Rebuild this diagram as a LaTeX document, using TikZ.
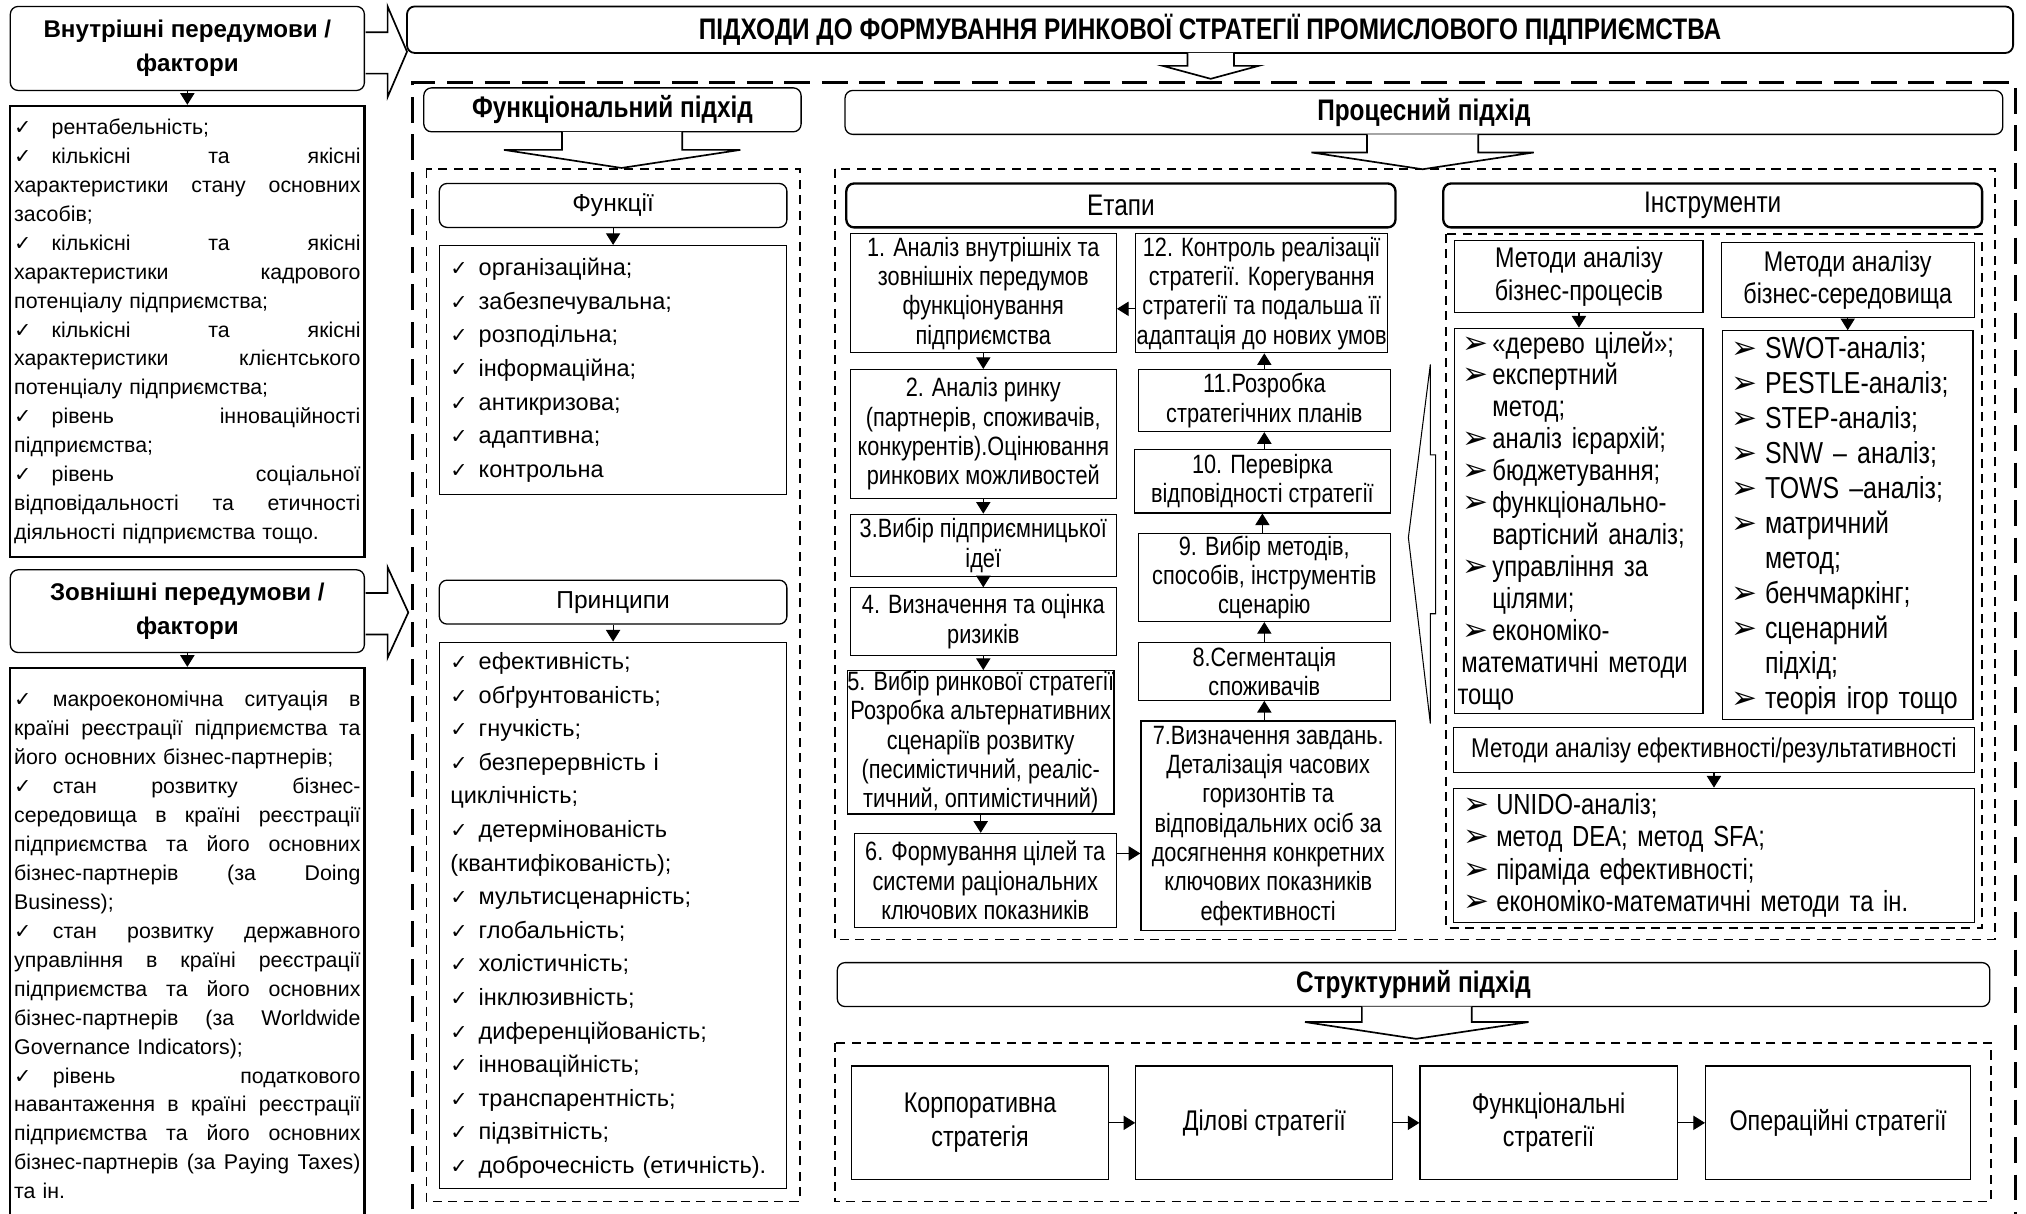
\documentclass[tikz,border=0pt]{standalone}
\usepackage{fontspec}
\setmainfont{Liberation Sans}
\newfontfamily\narrowfont[FakeStretch=0.82]{Liberation Sans}
\newfontfamily\symfont{DejaVu Sans}
\usetikzlibrary{arrows.meta}

% list bullets
\newcommand\tick[1][22pt]{\makebox[#1][l]{\symfont\fontsize{16}{16}\selectfont ✓}}
\newcommand\ptr[1][23pt]{\makebox[#1][l]{\symfont\fontsize{24}{24}\selectfont ➢}}
% a line spread over the whole width of the factor boxes
\newcommand\jline[1]{\makebox[268pt][s]{\spaceskip=\fontdimen2\font plus 1fill\relax#1}}

\begin{document}
\begin{tikzpicture}
  [x=1pt,y=-1pt,line join=miter,
   % Styles
   every node/.style={inner sep=0pt},
   spans/.style args={#1,#2,#3,#4}{minimum width=#3-#1,minimum height=#4-#2,
     at={({(#1+#3)/2},{(#2+#4)/2})}},
   headbox/.style={draw,rounded corners=6pt,line width=1pt,align=center},
   heavy headbox/.style={headbox,line width=1.8pt},
   cell/.style={draw,line width=0.9pt,align=center,
     font=\narrowfont\fontsize{20.5}{22.7}\selectfont},
   factors/.style={draw,line width=1.8pt,text width=268pt,align=left,
     font=\fontsize{16.5}{22.4}\selectfont},
   ticklist/.style={draw,line width=0.9pt,text width=252pt,align=left,
     font=\fontsize{18.2}{26}\selectfont},
   ptrlist/.style={draw,line width=0.9pt,align=left},
   flow/.style={-{Triangle[length=9pt,width=11pt]},line width=0.9pt},
   hollow/.style={draw,fill=white,line width=1.3pt},
   bigdashed/.style={line width=2.6pt,dash pattern=on 20pt off 9pt},
   boxdashed/.style={line width=1.3pt,dash pattern=on 7pt off 5pt}]

  \useasboundingbox (0,0) rectangle (1568,939);

  % Frames
  \draw[bigdashed] (319,965) -- (319,64) -- (1560,64) -- (1560,965);
  \draw[boxdashed] (330,131) rectangle (619,930);
  \draw[boxdashed] (646,131) rectangle (1544,727);
  \draw[boxdashed] (1119,181) rectangle (1534,718);
  \draw[boxdashed] (646,807) rectangle (1541,930);

  % Prerequisites
  \node[headbox,font=\bfseries\fontsize{18.7}{26}\selectfont,spans={8,5,282,70}] (inhead)
    {Внутрішні передумови /\\фактори};
  \node[factors,spans={8,82,282,431}] (inlist)
    {\tick[29pt]рентабельність;\\
     \jline{\tick[29pt]кількісні та якісні}\\
     \jline{характеристики стану основних}\\
     засобів;\\
     \jline{\tick[29pt]кількісні та якісні}\\
     \jline{характеристики кадрового}\\
     потенціалу підприємства;\\
     \jline{\tick[29pt]кількісні та якісні}\\
     \jline{характеристики клієнтського}\\
     потенціалу підприємства;\\
     \jline{\tick[29pt]рівень інноваційності}\\
     підприємства;\\
     \jline{\tick[29pt]рівень соціальної}\\
     \jline{відповідальності та етичності}\\
     діяльності підприємства тощо.};
  \node[headbox,font=\bfseries\fontsize{18.7}{26}\selectfont,spans={8,441,282,505}] (outhead)
    {Зовнішні передумови /\\фактори};
  \node[factors,spans={8,517,282,946}] (outlist)
    {\jline{\tick[30pt]макроекономічна ситуація в}\\
     \jline{країні реєстрації підприємства та}\\
     його основних бізнес-партнерів;\\
     \jline{\tick[30pt]стан розвитку бізнес-}\\
     \jline{середовища в країні реєстрації}\\
     \jline{підприємства та його основних}\\
     \jline{бізнес-партнерів (за Doing}\\
     Business);\\
     \jline{\tick[30pt]стан розвитку державного}\\
     \jline{управління в країні реєстрації}\\
     \jline{підприємства та його основних}\\
     \jline{бізнес-партнерів (за Worldwide}\\
     Governance Indicators);\\
     \jline{\tick[30pt]рівень податкового}\\
     \jline{навантаження в країні реєстрації}\\
     \jline{підприємства та його основних}\\
     \jline{бізнес-партнерів (за Paying Taxes)}\\
     та ін.};
  \draw[flow] (inhead) -- (inlist);
  \draw[flow] (outhead) -- (outlist);
  \draw[hollow] (283,25) -- (300,25) -- (300,5) -- (315,40) -- (300,75) -- (300,57) -- (283,57);
  \draw[hollow] (283,459) -- (300,459) -- (300,439) -- (316,474) -- (300,509) -- (300,491) -- (283,491);

  % Title
  \node[headbox,line width=1.4pt,font=\narrowfont\bfseries\fontsize{23}{26}\selectfont,
    spans={315,5,1558,41}] (title)
    {ПІДХОДИ ДО ФОРМУВАННЯ РИНКОВОЇ СТРАТЕГІЇ ПРОМИСЛОВОГО ПІДПРИЄМСТВА};
  \draw[hollow] (919,41) -- (919,51) -- (900,51) -- (937,61) -- (974,51) -- (955,51) -- (955,41);

  % Functional approach
  \node[headbox,font=\narrowfont\bfseries\fontsize{23}{26}\selectfont,spans={328,68,620,102}] (funcappr)
    {Функціональний підхід};
  \draw[hollow] (435,102) -- (435,116) -- (390,116) -- (481,130) -- (573,116) -- (528,116) -- (528,102);
  \node[headbox,font=\fontsize{19}{24}\selectfont,spans={340,142,609,176}] (funchead) {Функції};
  \node[ticklist,spans={340,190,609,383}] (funclist)
    {\tick організаційна;\\
     \tick забезпечувальна;\\
     \tick розподільна;\\
     \tick інформаційна;\\
     \tick антикризова;\\
     \tick адаптивна;\\
     \tick контрольна};
  \node[headbox,font=\fontsize{19}{24}\selectfont,spans={340,449,609,483}] (princhead) {Принципи};
  \node[ticklist,spans={340,497,609,920}] (princlist)
    {\tick ефективність;\\
     \tick обґрунтованість;\\
     \tick гнучкість;\\
     \tick безперервність і\\
     циклічність;\\
     \tick детермінованість\\
     (квантифікованість);\\
     \tick мультисценарність;\\
     \tick глобальність;\\
     \tick холістичність;\\
     \tick інклюзивність;\\
     \tick диференційованість;\\
     \tick інноваційність;\\
     \tick транспарентність;\\
     \tick підзвітність;\\
     \tick доброчесність (етичність).};
  \draw[flow] (funchead) -- (funclist);
  \draw[flow] (princhead) -- (princlist);

  % Process approach
  \node[headbox,font=\narrowfont\bfseries\fontsize{23}{26}\selectfont,spans={654,70,1550,104}] (procappr)
    {Процесний підхід};
  \draw[hollow] (1058,104) -- (1058,118) -- (1015,118) -- (1101,131) -- (1187,118) -- (1144,118) -- (1144,104);
  \node[heavy headbox,font=\narrowfont\fontsize{23}{26}\selectfont,spans={655,142,1080,176}] (stages) {Етапи};
  \node[heavy headbox,font=\narrowfont\fontsize{23}{26}\selectfont,spans={1117,142,1534,176}] (tools) {Інструменти};

  % Stages
  \node[cell,spans={658,181,864,273}] (s1)
    {1. Аналіз внутрішніх та\\зовнішніх передумов\\функціонування\\підприємства};
  \node[cell,spans={658,286,864,386}] (s2)
    {2. Аналіз ринку\\(партнерів, споживачів,\\конкурентів).Оцінювання\\ринкових можливостей};
  \node[cell,spans={658,398,864,446}] (s3) {3.Вибір підприємницької\\ідеї};
  \node[cell,spans={658,455,864,507}] (s4) {4. Визначення та оцінка\\ризиків};
  \node[cell,spans={658,519,860,630}] (s5)
    {5. Вибір ринкової стратегії\\Розробка альтернативних\\сценаріїв розвитку\\(песимістичний, реаліс-\\тичний, оптимістичний)};
  \node[cell,spans={661,645,864,718}] (s6)
    {6. Формування цілей та\\системи раціональних\\ключових показників};
  \node[cell,spans={883,558,1080,720}] (s7)
    {7.Визначення завдань.\\Деталізація часових\\горизонтів та\\відповідальних осіб за\\досягнення конкретних\\ключових показників\\ефективності};
  \node[cell,spans={881,497,1076,542}] (s8) {8.Сегментація\\споживачів};
  \node[cell,spans={881,413,1076,481}] (s9) {9. Вибір методів,\\способів, інструментів\\сценарію};
  \node[cell,spans={878,348,1076,397}] (s10) {10. Перевірка\\відповідності стратегії};
  \node[cell,spans={881,286,1076,334}] (s11) {11.Розробка\\стратегічних планів};
  \node[cell,spans={879,181,1074,273}] (s12)
    {12. Контроль реалізації\\стратегії. Корегування\\стратегії та подальша її\\адаптація до нових умов};

  \draw[flow] (s1) -- (s2);
  \draw[flow] (s2) -- (s3);
  \draw[flow] (s3) -- (s4);
  \draw[flow] (s4.south) -- (s4.south |- s5.north);
  \draw[flow] (s5.south) -- (s5.south |- s6.north);
  \draw[flow] ([yshift=21pt]s6.east) -- ([yshift=21pt]s6.east -| s7.west);
  \draw[flow] (s8.south |- s7.north) -- (s8.south);
  \draw[flow] (s9.south |- s8.north) -- (s9.south);
  \draw[flow] (s10.south |- s9.north) -- (s10.south);
  \draw[flow] (s11.south |- s10.north) -- (s11.south);
  \draw[flow] (s11.north) -- (s11.north |- s12.south);
  \draw[flow] ([yshift=-12pt]s12.west) -- ([yshift=-12pt]s12.west -| s1.east);

  % Bracket towards the tools
  \draw[line width=0.8pt,fill=white] (1107,282) -- (1107,352) -- (1111,352) -- (1111,475)
    -- (1107,475) -- (1107,560) -- (1090,416) -- cycle;

  % Tools
  \node[cell,font=\narrowfont\fontsize{22}{25}\selectfont,spans={1126,186,1318,242}] (bpmeth)
    {Методи аналізу\\бізнес-процесів};
  \node[ptrlist,text width=180pt,font=\narrowfont\fontsize{22.5}{24.7}\selectfont,
    spans={1126,254,1318,552}] (bplist)
    {\ptr«дерево цілей»;\\
     \ptr експертний\\
     \hspace*{23pt}метод;\\
     \ptr аналіз ієрархій;\\
     \ptr бюджетування;\\
     \ptr функціонально-\\
     \hspace*{23pt}вартісний аналіз;\\
     \ptr управління за\\
     \hspace*{23pt}цілями;\\
     \ptr економіко-\\
     \hspace*{-1pt}математичні методи\\
     \hspace*{-4pt}тощо};
  \node[cell,font=\narrowfont\fontsize{22}{25}\selectfont,spans={1332,188,1528,246}] (envmeth)
    {Методи аналізу\\бізнес-середовища};
  \node[ptrlist,text width=180pt,font=\narrowfont\fontsize{23.5}{27.1}\selectfont,
    spans={1333,256,1527,557}] (envlist)
    {\ptr[26pt]SWOT-аналіз;\\
     \ptr[26pt]PESTLE-аналіз;\\
     \ptr[26pt]STEP-аналіз;\\
     \ptr[26pt]SNW – аналіз;\\
     \ptr[26pt]TOWS –аналіз;\\
     \ptr[26pt]матричний\\
     \hspace*{26pt}метод;\\
     \ptr[26pt]бенчмаркінг;\\
     \ptr[26pt]сценарний\\
     \hspace*{26pt}підхід;\\
     \ptr[26pt]теорія ігор тощо};
  \node[cell,font=\narrowfont\fontsize{21}{25}\selectfont,spans={1125,563,1528,598}] (effmeth)
    {Методи аналізу ефективності/результативності};
  \node[ptrlist,text width=387pt,font=\narrowfont\fontsize{22.5}{25}\selectfont,
    spans={1125,610,1528,714}] (efflist)
    {\ptr[25pt]UNIDO-аналіз;\\
     \ptr[25pt]метод DEA; метод SFA;\\
     \ptr[25pt]піраміда ефективності;\\
     \ptr[25pt]економіко-математичні методи та ін.};
  \draw[flow] (bpmeth) -- (bplist);
  \draw[flow] (envmeth) -- (envlist);
  \draw[flow] (effmeth) -- (efflist);

  % Structural approach
  \node[headbox,font=\narrowfont\bfseries\fontsize{23}{26}\selectfont,spans={648,745,1540,779}] (structappr)
    {Структурний підхід};
  \draw[hollow] (1054,779) -- (1054,791) -- (1010,791) -- (1096,804) -- (1183,791) -- (1139,791) -- (1139,779);
  \node[cell,font=\narrowfont\fontsize{22}{26}\selectfont,spans={659,825,858,913}] (corp)
    {Корпоративна\\стратегія};
  \node[cell,font=\narrowfont\fontsize{22}{26}\selectfont,spans={879,825,1078,913}] (busi)
    {Ділові стратегії};
  \node[cell,font=\narrowfont\fontsize{22}{26}\selectfont,spans={1099,825,1298,913}] (func)
    {Функціональні\\стратегії};
  \node[cell,font=\narrowfont\fontsize{22}{26}\selectfont,spans={1320,825,1525,913}] (oper)
    {Операційні стратегії};
  \draw[flow] (corp) -- (busi);
  \draw[flow] (busi) -- (func);
  \draw[flow] (func) -- (oper);
\end{tikzpicture}
\end{document}
